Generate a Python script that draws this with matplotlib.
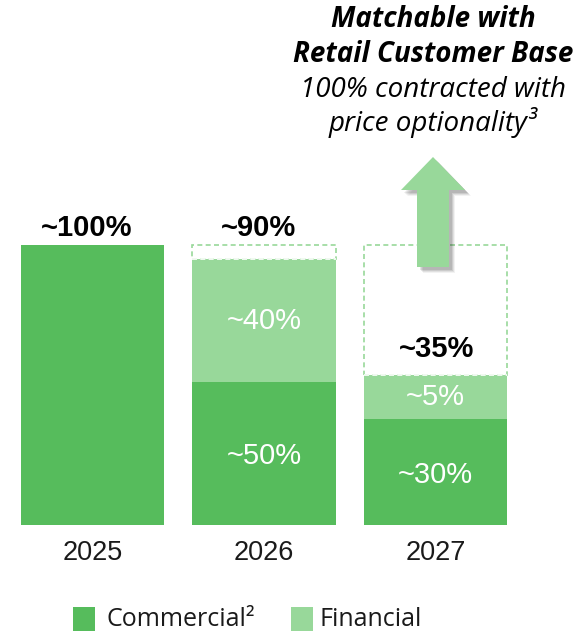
import matplotlib
matplotlib.use("Agg")
import matplotlib.pyplot as plt
from matplotlib.patches import Polygon

years = ["2025", "2026", "2027"]
commercial = [100, 51, 38]          # drawn heights (slide is not to scale)
financial = [0, 44, 15.5]
capacity = [100, 100, 100]
commercial_labels = ["", "~50%", "~30%"]
financial_labels = ["", "~40%", "~5%"]
total_labels = ["~100%", "~90%", "~35%"]

DARK = "#56BC5C"
LIGHT = "#98D89A"

W, H = 582, 632
fig = plt.figure(figsize=(W / 100, H / 100), dpi=100)
ax = fig.add_axes([0, 0, 1, 1])
ax.axis("off")

X0, SP = 92.5, 171.5      # pixel centre of first bar, spacing
BASE, SC = 525, 2.8        # pixel baseline, px per percent
ax.set_xlim(-X0 / SP, (W - X0) / SP)
ax.set_ylim(-(H - BASE) / SC, BASE / SC)

def P(px, py):
    return ((px - X0) / SP, (BASE - py) / SC)

x = list(range(len(years)))
bw = 0.835
SANS = ["Liberation Sans", "DejaVu Sans"]
APT = ["Open Sans", "DejaVu Sans"]

# dashed capacity outlines
for i in x:
    top = commercial[i] + financial[i]
    if capacity[i] - top > 0.5:
        ax.bar(i, capacity[i] - top, bottom=top, width=bw, color="white",
               edgecolor=LIGHT, linestyle=(0, (3, 2)), linewidth=1.2, zorder=1)

ax.bar(x, commercial, width=bw, color=DARK, zorder=2)
ax.bar(x, financial, bottom=commercial, width=bw, color=LIGHT, zorder=2,
       edgecolor="white", linewidth=0)
# white dashed top edge on financial segments
for i in x:
    if financial[i] > 0:
        top = commercial[i] + financial[i]
        ax.plot([i - bw / 2, i + bw / 2], [top, top], color="white",
                lw=1.2, ls=(0, (3, 2)), zorder=3)

# in-bar labels
for i in x:
    if commercial_labels[i]:
        ax.text(i, commercial[i] / 2 - 1, commercial_labels[i], ha="center", va="center",
                color="white", fontsize=21, family=SANS, zorder=4)
    if financial_labels[i]:
        ax.text(i, commercial[i] + financial[i] / 2, financial_labels[i], ha="center",
                va="center", color="white", fontsize=21, family=SANS, zorder=4)

# total labels
tot_pos = [P(87, 228), P(258, 228), P(437, 349)]
for (tx, ty), lab in zip(tot_pos, total_labels):
    ax.text(tx, ty, lab, ha="center", va="center", fontsize=21, fontweight="bold",
            family=SANS, color="black", zorder=5)

# year labels
for i, y in enumerate(years):
    ax.text(i, P(0, 553)[1], y, ha="center", va="center", fontsize=19.5,
            family=SANS, color="#1a1a1a")

# arrow with soft shadow
arrow_px = [(417, 267), (417, 190), (401, 190), (433, 157), (465, 190),
            (449, 190), (449, 267)]
for k, (dx, dy, a) in enumerate([(6, 6, 0.05), (5, 5, 0.07), (4, 4, 0.09), (3, 3, 0.1)]):
    ax.add_patch(Polygon([P(px + dx, py + dy) for px, py in arrow_px],
                         closed=True, facecolor="black", alpha=a, lw=0, zorder=5))
ax.add_patch(Polygon([P(px, py) for px, py in arrow_px], closed=True,
                     facecolor=LIGHT, edgecolor="none", zorder=6))

# top annotation
cx = P(433, 0)[0]
ax.text(cx, P(0, 20)[1], "Matchable with", ha="center", va="center", fontsize=20,
        fontweight="bold", style="italic", family=APT)
ax.text(cx, P(0, 55)[1], "Retail Customer Base", ha="center", va="center",
        fontsize=20, fontweight="bold", style="italic", family=APT)
ax.text(cx, P(0, 90)[1], "100% contracted with", ha="center", va="center",
        fontsize=20, style="italic", family=APT)
ax.text(cx, P(0, 123)[1], "price optionality\u00b3", ha="center", va="center",
        fontsize=20, style="italic", family=APT)

# legend
for (sx, col, lab, lx) in [(73, DARK, "Commercial\u00b2", 106),
                           (291, LIGHT, "Financial", 320)]:
    ax.add_patch(Polygon([P(sx, 607), P(sx + 22, 607), P(sx + 22, 631), P(sx, 631)],
                         closed=True, facecolor=col, lw=0))
    ax.text(P(lx, 0)[0], P(0, 620)[1], lab, ha="left", va="center", fontsize=18,
            family=APT, color="#1a1a1a")

fig.savefig("out.png", dpi=100)
